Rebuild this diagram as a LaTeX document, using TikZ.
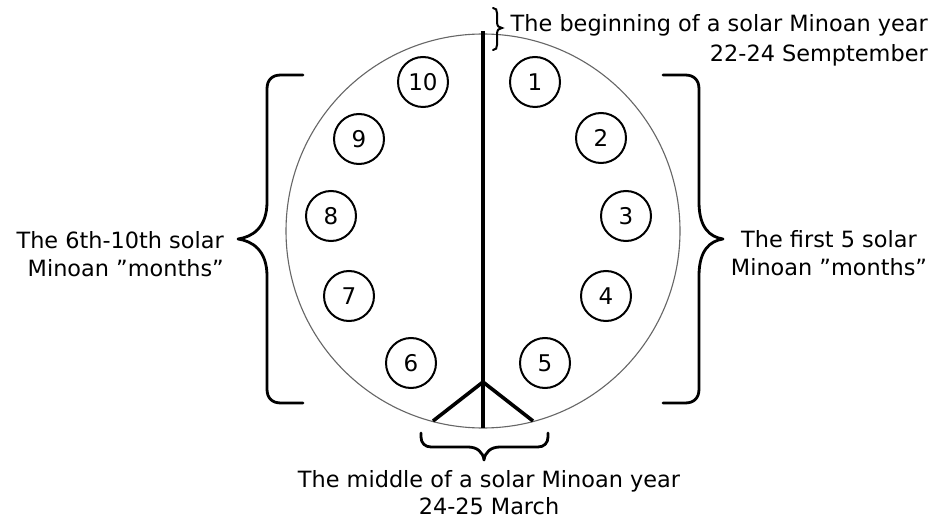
\documentclass[tikz,border=0pt]{standalone}
\usepackage{fontspec}
\setmainfont{DejaVu Sans}
\begin{document}
\begin{tikzpicture}[x=1pt,y=-1pt,
  month/.style={circle, draw, line width=2pt, minimum size=50pt, inner sep=0pt, font=\fontsize{23}{27}\selectfont},
  lbl/.style={font=\fontsize{22.4}{28}\selectfont, inner sep=0pt},
  bracestyle/.style={line width=2.8pt, line cap=round, line join=round},
  axis/.style={line width=3.6pt},
  dialstyle/.style={circle, draw=black!60, line width=1.1pt, minimum size=394pt, inner sep=0pt}]
\useasboundingbox[fill=white] (0,0) rectangle (934,521);
% big circle
\node[dialstyle] (dial) at (483,231) {};
% axis and fork
\coordinate (top) at (483,31);
\coordinate (bot) at (483,428);
\coordinate (fork) at (483,382);
\coordinate (forkl) at (433,421);
\coordinate (forkr) at (533,421);
\draw[axis] (top) -- (bot);
\draw[axis, line join=miter] (forkl) -- (fork) -- (forkr);
% months
\node[month] (m1) at (535,82) {1};
\node[month] (m2) at (601,138) {2};
\node[month] (m3) at (626,216) {3};
\node[month] (m4) at (606,296) {4};
\node[month] (m5) at (545,363) {5};
\node[month] (m6) at (411,363) {6};
\node[month] (m7) at (349,296) {7};
\node[month] (m8) at (331,216) {8};
\node[month] (m9) at (359,139) {9};
\node[month] (m10) at (423,82) {10};
% left brace
\draw[bracestyle] (303,75) -- (281,75) .. controls (272,75) and (267,80) .. (267,89)
  -- (267,202) .. controls (267,228) and (252,237) .. (238,239)
  .. controls (252,241) and (267,250) .. (267,276)
  -- (267,389) .. controls (267,398) and (272,403) .. (281,403) -- (303,403);
% right brace
\draw[bracestyle] (663,75) -- (685,75) .. controls (694,75) and (699,80) .. (699,89)
  -- (699,202) .. controls (699,228) and (710,237) .. (723,239)
  .. controls (710,241) and (699,250) .. (699,276)
  -- (699,389) .. controls (699,398) and (694,403) .. (685,403) -- (663,403);
% top small brace
\draw[line width=2pt, line cap=round] (493,8) .. controls (496,8) and (497,10) .. (497,13)
  -- (497,22) .. controls (497,26) and (499,28) .. (502,28)
  .. controls (499,28) and (497,30) .. (497,34)
  -- (497,45) .. controls (497,48) and (496,50) .. (493,50);
% bottom brace
\draw[bracestyle] (421,433) -- (421,437) .. controls (421,443) and (425,447) .. (431,447)
  -- (468,447) .. controls (477,447) and (483,452) .. (484,460)
  .. controls (485,452) and (491,447) .. (500,447)
  -- (538,447) .. controls (544,447) and (548,443) .. (548,437) -- (548,433);
% labels
\node[lbl, align=right, anchor=east, font=\fontsize{22.4}{30}\selectfont] (tb) at (928,40) {The beginning of a solar Minoan year\\22-24 Semptember};
\node[lbl, align=right, anchor=east] (tl) at (224,254) {The 6th-10th solar\\Minoan ”months”};
\node[lbl, align=center] (tr) at (829,253) {The first 5 solar\\Minoan ”months”};
\node[lbl, align=center, font=\fontsize{22.4}{27}\selectfont] (tm) at (489,493) {The middle of a solar Minoan year\\24-25 March};
\end{tikzpicture}
\end{document}
